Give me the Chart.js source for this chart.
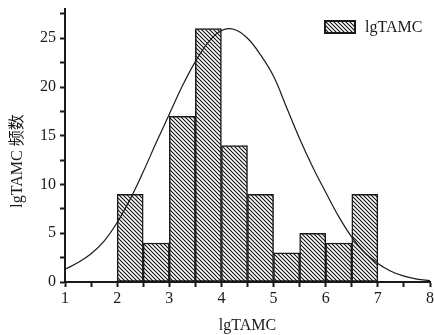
<!DOCTYPE html>
<html>
<head>
<meta charset="utf-8">
<script src="https://cdn.jsdelivr.net/npm/chart.js@4/dist/chart.umd.min.js"></script>
<style>
  html, body { margin: 0; padding: 0; background: #fff; overflow: hidden; }
  #wrap { width: 434px; height: 335px; position: relative; }
</style>
</head>
<body>
<div id="wrap"><canvas id="myChart"></canvas></div>
<script>
// histogram bins (lgTAMC) and counts
var binEdges = [2, 2.5, 3, 3.5, 4, 4.5, 5, 5.5, 6, 6.5, 7];
var counts = [9, 4, 17, 26, 14, 9, 3, 5, 4, 9];
// fitted normal curve
var curveX = [1, 1.25, 1.5, 1.75, 2, 2.25, 2.5, 2.75, 3, 3.25, 3.5, 3.75, 4, 4.25, 4.5,
              4.75, 5, 5.25, 5.5, 5.75, 6, 6.25, 6.5, 6.75, 7, 7.25, 7.5, 7.75, 8];
var curveY = [1.3, 2.0, 2.9, 4.2, 6.1, 8.5, 11.3, 14.3, 17.2, 20.1, 22.6, 24.6, 25.8, 25.9, 25.0,
              23.3, 21.1, 17.9, 14.7, 11.8, 9.2, 6.7, 4.6, 3.0, 1.9, 1.1, 0.6, 0.3, 0.15];
var xTicks = [1, 2, 3, 4, 5, 6, 7, 8];
var yTicks = [0, 5, 10, 15, 20, 25];
var yTitle = 'lgTAMC 频数';

var serif = "'Liberation Serif', 'DejaVu Serif', 'Noto Sans CJK SC', serif";
var ink = '#1a1a1a';

// hatch pattern  \\\\
function makeHatch() {
  var c = document.createElement('canvas');
  c.width = 4; c.height = 4;
  var g = c.getContext('2d');
  g.fillStyle = '#fff';
  g.fillRect(0, 0, 4, 4);
  g.strokeStyle = '#111';
  g.lineWidth = 1.1;
  g.beginPath();
  g.moveTo(-1, -1); g.lineTo(5, 5);
  g.moveTo(-1, 3); g.lineTo(1, 5);
  g.moveTo(3, -1); g.lineTo(5, 1);
  g.stroke();
  return document.getElementById('myChart').getContext('2d').createPattern(c, 'repeat');
}
var hatch = makeHatch();

var barData = counts.map(function (v, i) {
  return { x: (binEdges[i] + binEdges[i + 1]) / 2, y: v };
});
var lineData = curveX.map(function (x, i) { return { x: x, y: curveY[i] }; });

// legend box in the top right corner, plus the y title (sits a bit low in the original)
var extras = {
  id: 'extras',
  afterDraw: function (chart) {
    var a = chart.chartArea, c = chart.ctx;
    var ds = chart.data.datasets[0];
    var bx = a.right - 105, by = a.top + 12;
    c.save();
    c.fillStyle = ds.backgroundColor;
    c.fillRect(bx, by, 30, 12);
    c.lineWidth = 2;
    c.strokeStyle = ink;
    c.strokeRect(bx, by, 30, 12);
    c.fillStyle = ink;
    c.font = '16px ' + serif;
    c.textBaseline = 'middle';
    c.fillText(ds.label, bx + 40, by + 7);
    c.translate(18, a.top + 152);
    c.rotate(-Math.PI / 2);
    c.textAlign = 'center';
    c.fillText(yTitle, 0, 0);
    c.restore();
  }
};

var ctx = document.getElementById('myChart').getContext('2d');
var chart = new Chart(ctx, {
  type: 'bar',
  data: {
    datasets: [{
      type: 'bar',
      label: 'lgTAMC',
      data: barData,
      backgroundColor: hatch,
      borderColor: ink,
      borderWidth: 1.5,
      borderSkipped: false,
      barPercentage: 1,
      categoryPercentage: 1,
      order: 2
    }, {
      type: 'line',
      label: 'normal',
      data: lineData,
      borderColor: ink,
      borderWidth: 1.2,
      pointRadius: 0,
      tension: 0.4,
      fill: false,
      order: 1
    }]
  },
  options: {
    responsive: true,
    maintainAspectRatio: false,
    animation: false,
    layout: { padding: 0 },
    scales: {
      x: {
        type: 'linear',
        offset: false,
        min: 1,
        max: 8,
        afterFit: function (s) { s.height = 53; s.paddingRight = 4; },
        ticks: {
          stepSize: 0.5,
          autoSkip: false,
          maxRotation: 0,
          padding: 2,
          color: ink,
          font: { family: serif, size: 16 },
          callback: function (v) { return xTicks.indexOf(v) >= 0 ? String(v) : ''; }
        },
        grid: { drawOnChartArea: false, drawTicks: true, tickLength: 5, color: ink, tickWidth: 2, offset: false },
        border: { display: true, color: ink, width: 2 },
        title: {
          display: true, text: 'lgTAMC', color: ink,
          font: { family: serif, size: 16 }, padding: { top: 4, bottom: 0 }
        }
      },
      y: {
        min: 0,
        max: 28,
        afterFit: function (s) { s.width = 65; s.paddingTop = 9; },
        ticks: {
          stepSize: 2.5,
          includeBounds: false,
          padding: 4,
          color: ink,
          font: { family: serif, size: 16 },
          callback: function (v) { return yTicks.indexOf(v) >= 0 ? String(v) : ''; }
        },
        grid: { drawOnChartArea: false, drawTicks: true, tickLength: 5, color: ink, tickWidth: 2 },
        border: { display: true, color: ink, width: 2 },
        title: { display: false }
      }
    },
    plugins: {
      legend: { display: false },
      tooltip: { enabled: false }
    }
  },
  plugins: [extras]
});
</script>
</body>
</html>
